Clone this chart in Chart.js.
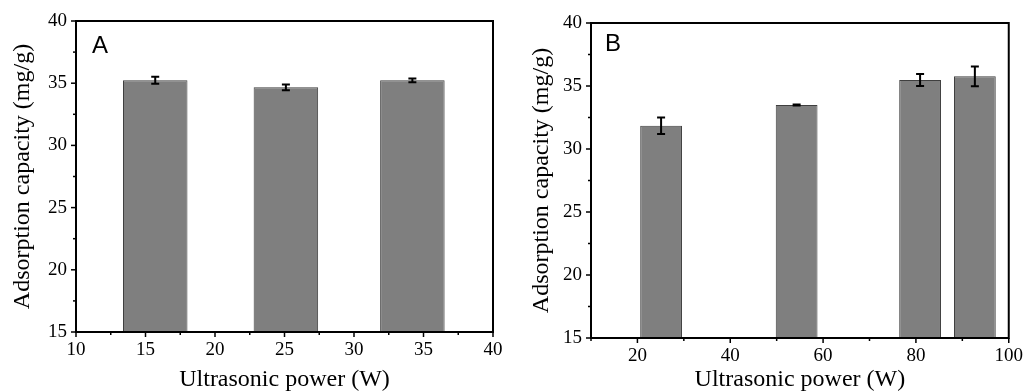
<!DOCTYPE html>
<html>
<head>
<meta charset="utf-8">
<script src="https://cdn.jsdelivr.net/npm/chart.js@4.4.1/dist/chart.umd.min.js"></script>
<style>
  body { margin: 0; background: #fff; width: 1030px; height: 392px; overflow: hidden; position: relative; }
  .panel { position: absolute; top: 0; height: 392px; }
  #boxA { left: 0; width: 512px; }
  #boxB { left: 519px; width: 511px; }
</style>
</head>
<body>
<div class="panel" id="boxA"><canvas id="chartA"></canvas></div>
<div class="panel" id="boxB"><canvas id="chartB"></canvas></div>
<script>
// panel A
var powerA = [15.7, 25.1, 34.2];
var capacityA = [35.23, 34.67, 35.23];
var errorA = [0.28, 0.23, 0.15];

// panel B
var powerB = [25.1, 54.3, 80.9, 92.7];
var capacityB = [31.85, 33.49, 35.48, 35.77];
var errorB = [0.65, 0.04, 0.48, 0.78];

var serif = "'Liberation Serif', 'Times New Roman', serif";

// error bars, minor/major ticks, frame and the panel letter
var panelPlugin = {
  id: 'panel',
  afterDraw: function (chart, args, opts) {
    var ctx = chart.ctx, area = chart.chartArea;
    var xs = chart.scales.x, ys = chart.scales.y;
    var pts = chart.data.datasets[0].data;
    ctx.save();

    ctx.strokeStyle = '#000';
    ctx.lineWidth = 2;
    pts.forEach(function (p, i) {
      var e = opts.errors[i];
      var px = xs.getPixelForValue(p.x);
      var t = ys.getPixelForValue(p.y + e), b = ys.getPixelForValue(p.y - e);
      ctx.beginPath();
      ctx.moveTo(px, t); ctx.lineTo(px, b);
      ctx.moveTo(px - 4, t); ctx.lineTo(px + 4, t);
      ctx.moveTo(px - 4, b); ctx.lineTo(px + 4, b);
      ctx.stroke();
    });

    ctx.lineWidth = 1.5;
    xs.ticks.forEach(function (t) {
      var px = xs.getPixelForValue(t.value);
      var len = t.label !== '' ? 5 : 3;
      ctx.beginPath();
      ctx.moveTo(px, area.bottom); ctx.lineTo(px, area.bottom + len);
      ctx.stroke();
    });
    ys.ticks.forEach(function (t) {
      var py = ys.getPixelForValue(t.value);
      var len = t.label !== '' ? 5 : 3;
      ctx.beginPath();
      ctx.moveTo(area.left, py); ctx.lineTo(area.left - len, py);
      ctx.stroke();
    });

    ctx.lineWidth = 2;
    ctx.strokeRect(area.left, area.top, area.right - area.left, area.bottom - area.top);

    ctx.fillStyle = '#000';
    ctx.font = "24px 'Liberation Sans', Arial, sans-serif";
    ctx.textBaseline = 'alphabetic';
    ctx.fillText(opts.letter, area.left + opts.dx, area.top + opts.dy);
    ctx.restore();
  }
};

function makeChart(id, xs, ys, errs, o) {
  return new Chart(document.getElementById(id), {
    type: 'bar',
    data: {
      datasets: [{
        data: xs.map(function (x, i) { return { x: x, y: ys[i] }; }),
        backgroundColor: '#7f7f7f',
        borderColor: '#3f3f3f',
        borderWidth: 1,
        categoryPercentage: 1,
        barPercentage: o.barPct
      }]
    },
    options: {
      responsive: true,
      maintainAspectRatio: false,
      animation: false,
      devicePixelRatio: 1,
      layout: { padding: { left: 0, top: o.top, right: o.right, bottom: 0 } },
      plugins: {
        legend: { display: false },
        tooltip: { enabled: false },
        panel: { errors: errs, letter: o.letter, dx: o.dx, dy: o.dy }
      },
      scales: {
        x: {
          type: 'linear',
          min: o.xMin, max: o.xMax,
          offset: false,
          grid: { display: false, drawTicks: false, offset: false },
          border: { display: false },
          ticks: {
            stepSize: o.xStep,
            autoSkip: false,
            maxRotation: 0,
            padding: 7,
            color: '#000',
            font: { family: serif, size: 19 },
            callback: function (v) { return v % o.xLabelEvery === 0 ? v : ''; }
          },
          title: {
            display: true,
            text: 'Ultrasonic power (W)',
            color: '#000',
            padding: 0,
            font: { family: serif, size: 24, lineHeight: 1 }
          },
          afterFit: function (axis) { axis.height = o.xHeight; }
        },
        y: {
          min: 15, max: 40,
          grid: { display: false, drawTicks: false },
          border: { display: false },
          ticks: {
            stepSize: 2.5,
            autoSkip: false,
            padding: 9,
            color: '#000',
            font: { family: serif, size: 19 },
            callback: function (v) { return v % 5 === 0 ? v : ''; }
          },
          title: {
            display: true,
            text: 'Adsorption capacity (mg/g)',
            color: '#000',
            padding: { top: 11, bottom: 0 },
            font: { family: serif, size: 24, lineHeight: 1 }
          },
          afterFit: function (axis) { axis.width = o.yWidth; }
        }
      }
    },
    plugins: [panelPlugin]
  });
}

makeChart('chartA', powerA, capacityA, errorA, {
  letter: 'A', dx: 16, dy: 32,
  xMin: 10, xMax: 40, xStep: 2.5, xLabelEvery: 5, barPct: 1.856,
  top: 21, right: 19, xHeight: 60, yWidth: 76
});

makeChart('chartB', powerB, capacityB, errorB, {
  letter: 'B', dx: 14, dy: 28,
  xMin: 10, xMax: 100, xStep: 10, xLabelEvery: 20, barPct: 0.9,
  top: 23, right: 17, xHeight: 54, yWidth: 72
});
</script>
</body>
</html>
